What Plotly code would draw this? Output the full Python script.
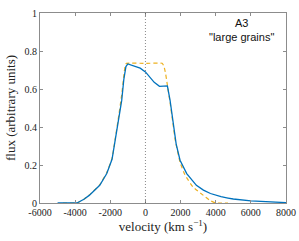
import plotly.graph_objects as go

# Blue (solid) model
blue_v = [-5000, -3900, -3500, -3200, -2600, -2200, -1900, -1750, -1550, -1350, -1230, -1110,
          -1000, -500, -300, 0, 250, 500, 800, 1000, 1250, 1400, 1550, 1750, 1970, 2350,
          2900, 3300, 3700, 4300, 4700, 5000, 6000, 7000, 8000]
blue_f = [0, 0, 0.02, 0.04, 0.093, 0.155, 0.23, 0.31, 0.42, 0.54, 0.65, 0.718,
          0.732, 0.718, 0.71, 0.69, 0.665, 0.635, 0.614, 0.615, 0.616, 0.542, 0.437, 0.31, 0.225, 0.155,
          0.093, 0.068, 0.05, 0.033, 0.026, 0.021, 0.011, 0.006, 0.002]

# Orange (dashed) model
orange_v = [-4700, -3900, -3500, -3200, -2600, -2200, -1900, -1750, -1550, -1350, -1230,
            -1150, -1080, 0, 950, 1050, 1150, 1250, 1400, 1550, 1700, 1970, 2250, 2700,
            3300, 3700, 3900, 4000, 4700]
orange_f = [0, 0, 0.02, 0.042, 0.097, 0.16, 0.235, 0.32, 0.44, 0.57, 0.67,
            0.725, 0.735, 0.735, 0.735, 0.72, 0.68, 0.62, 0.53, 0.43, 0.33, 0.215, 0.148, 0.085,
            0.04, 0.012, 0.003, 0, 0]

x_ticks = [-6000, -4000, -2000, 0, 2000, 4000, 6000, 8000]
y_ticks = [0, 0.2, 0.4, 0.6, 0.8, 1]

SERIF = "Liberation Serif, Times New Roman, serif"

fig = go.Figure()
fig.add_trace(go.Scatter(x=orange_v, y=orange_f, mode="lines", line_shape="spline",
                         line=dict(color="#EDB120", width=1.2, dash="4px,3px", smoothing=0.4)))
fig.add_trace(go.Scatter(x=blue_v, y=blue_f, mode="lines",
                         line=dict(color="#0072BD", width=1.3)))

fig.add_vline(x=0, line=dict(color="#555555", width=0.7, dash="1px,2px"))

fig.add_annotation(x=5450, y=0.91, xref="x", yref="y", showarrow=False,
                   text="A3<br>\"large grains\"",
                   font=dict(family="Liberation Sans, Arial", size=11, color="#111111"),
                   align="center")

axis_common = dict(showline=True, mirror="ticks", linecolor="#8c8c8c", linewidth=1,
                   ticks="inside", ticklen=3, tickcolor="#8c8c8c", showgrid=False,
                   zeroline=False, automargin=False,
                   tickfont=dict(family=SERIF, size=10, color="#222222"))

fig.update_layout(
    width=299, height=241,
    margin=dict(l=40, r=13, t=13, b=38),
    paper_bgcolor="white", plot_bgcolor="white",
    showlegend=False,
    xaxis=dict(range=[-6000, 8000], tickvals=x_ticks,
               ticktext=[str(t) for t in x_ticks],
               title=dict(text="velocity (km s<sup>−1</sup>)", standoff=3,
                          font=dict(family=SERIF, size=13, color="#222222")),
               **axis_common),
    yaxis=dict(range=[0, 1], tickvals=y_ticks,
               ticktext=["0", "0.2", "0.4", "0.6", "0.8", "1"],
               title=dict(text="flux (arbitrary units)", standoff=5,
                          font=dict(family=SERIF, size=13, color="#222222")),
               **axis_common),
)

fig.write_html("out.html",
               config={"displayModeBar": False},
               post_script="document.body.style.margin='0';document.body.style.overflow='hidden';")
